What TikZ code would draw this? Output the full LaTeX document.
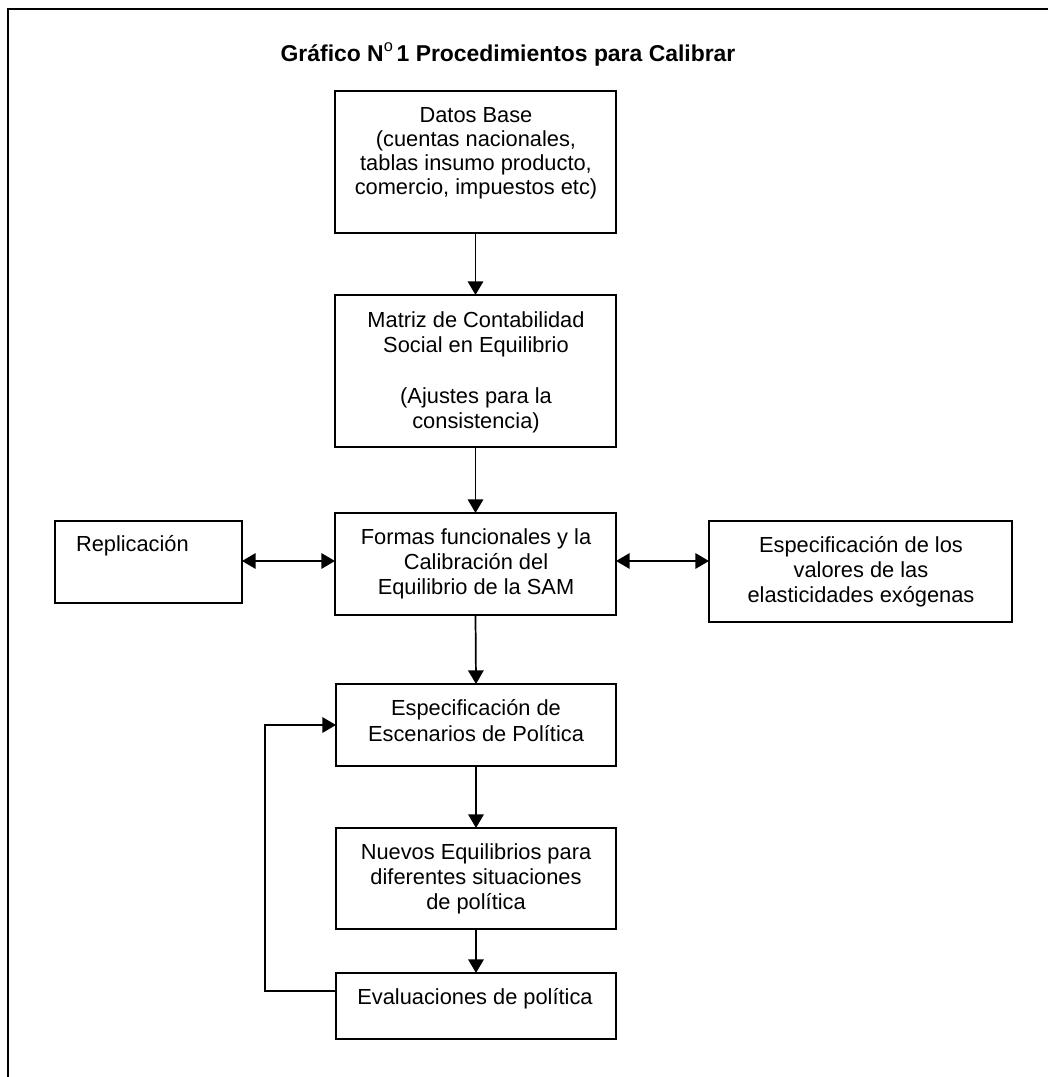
\documentclass[tikz,border=0pt]{standalone}
\usepackage{fontspec}
\setmainfont{Liberation Sans}
\usetikzlibrary{arrows.meta}

\tikzset{
  box/.style={draw, line width=1pt, inner sep=0pt, outer sep=0pt},
  txt/.style={align=center, inner sep=0pt, outer sep=0pt, anchor=north,
              font=\fontsize{12}{13.75}\selectfont},
  tip/.tip={Triangle[length=7.5pt,width=8.5pt]},
  arr/.style={line width=0.95pt, -tip},
  dbl/.style={line width=0.95pt, tip-tip},
  frame/.style={line width=1.25pt}
}

\begin{document}
\begin{tikzpicture}[x=0.55pt, y=-0.55pt]
\useasboundingbox (0,0) rectangle (1048,1077);

% page frame (top and left edges)
\coordinate (ftl) at (8,9);
\coordinate (ftr) at (1048,9);
\coordinate (fbl) at (8,1077);
\draw[frame] (ftr) -- (ftl) -- (fbl);

% title
\node[inner sep=0pt, anchor=base, font=\fontsize{12.6}{14}\selectfont\bfseries] (title) at (508,61)
  {Gráfico N\raisebox{0.42em}{\fontsize{9}{10}\selectfont\mdseries o}\,1 Procedimientos para Calibrar};

% boxes
\node[box, minimum width={281*0.55pt}, minimum height={142*0.55pt}] (datos)  at (475.5,162) {};
\node[box, minimum width={281*0.55pt}, minimum height={152*0.55pt}] (matriz) at (475.5,371) {};
\node[box, minimum width={281*0.55pt}, minimum height={102*0.55pt}] (formas) at (475.5,564) {};
\node[box, minimum width={187*0.55pt}, minimum height={82*0.55pt}]  (repl)   at (148.5,562) {};
\node[box, minimum width={303*0.55pt}, minimum height={101*0.55pt}] (espec)  at (860.5,571.5) {};
\node[box, minimum width={280*0.55pt}, minimum height={82*0.55pt}]  (escen)  at (476,725) {};
\node[box, minimum width={280*0.55pt}, minimum height={101*0.55pt}] (nuevos) at (476,878.5) {};
\node[box, minimum width={280*0.55pt}, minimum height={66*0.55pt}]  (eval)   at (476,1006) {};

% box texts (each node's top sits one strut above its first baseline)
\node[txt, font=\fontsize{12}{13.03}\selectfont] (tdatos) at (476,106.4)
  {\strut Datos Base\\(cuentas nacionales,\\tablas insumo producto,\\comercio, impuestos etc)};
\node[txt, font=\fontsize{12}{14}\selectfont] (tmatriz) at (476,309.2)
  {\strut Matriz de Contabilidad\\Social en Equilibrio\\[14pt](Ajustes para la\\consistencia)};
\node[txt] (tformas) at (476,526.5)
  {\strut Formas funcionales y la\\Calibración del\\Equilibrio de la SAM};
\node[txt, anchor=north west] (trepl) at (76,533.5) {\strut Replicación};
\node[txt] (tespec) at (861,534.5)
  {\strut Especificación de los\\valores de las\\elasticidades exógenas};
\node[txt, font=\fontsize{12}{14.3}\selectfont] (tescen) at (476,697)
  {\strut Especificación de\\Escenarios de Política};
\node[txt] (tnuevos) at (476,841.5)
  {\strut Nuevos Equilibrios para\\diferentes situaciones\\de política};
\node[txt] (teval) at (475,986.5) {\strut Evaluaciones de política};

% main flow
\draw[arr] (datos.south) -- (matriz.north);
\draw[arr] (matriz.south) -- (formas.north);
\draw[arr] (formas.south) -- (escen.north);
\draw[arr] (escen.south) -- (nuevos.north);
\draw[arr] (nuevos.south) -- (eval.north);

% side links
\coordinate (lk) at (300,561);
\draw[dbl] (repl.east |- lk) -- (formas.west |- lk);
\draw[dbl] (formas.east |- lk) -- (espec.west |- lk);

% feedback loop
\coordinate (fb) at (265,991);
\draw[arr] (eval.west |- fb) -- (fb) |- (escen.west);
\end{tikzpicture}
\end{document}
